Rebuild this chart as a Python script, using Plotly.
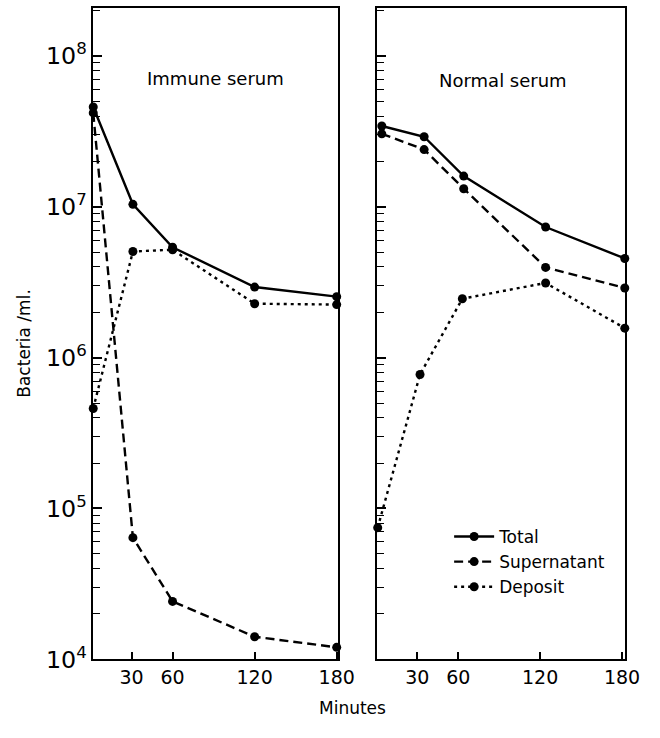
import plotly.graph_objects as go

# ---------------- data ----------------
left_times = [2, 31, 60, 120, 180]
immune_total = [4.6e7, 1.04e7, 5.4e6, 2.94e6, 2.54e6]
immune_supernatant = [4.2e7, 6.4e4, 2.42e4, 1.41e4, 1.20e4]
immune_deposit = [4.6e5, 5.06e6, 5.2e6, 2.28e6, 2.25e6]

right_times = [4, 35, 64, 124, 182]
right_times_deposit = [1, 32, 63, 124, 182]
normal_total = [3.44e7, 2.92e7, 1.60e7, 7.35e6, 4.55e6]
normal_supernatant = [3.05e7, 2.40e7, 1.32e7, 3.97e6, 2.90e6]
normal_deposit = [7.46e4, 7.74e5, 2.46e6, 3.13e6, 1.57e6]

x_ticks = [30, 60, 120, 180]
series_names = ["Total", "Supernatant", "Deposit"]
panel_titles = ["Immune serum", "Normal serum"]

FONT = "DejaVu Sans"
dashes = {"Total": "solid", "Supernatant": "9px,5px", "Deposit": "3px,4px"}

fig = go.Figure()

left_sets = [immune_total, immune_supernatant, immune_deposit]
right_sets = [normal_total, normal_supernatant, normal_deposit]
right_x = [right_times, right_times, right_times_deposit]

for name, ys in zip(series_names, left_sets):
    fig.add_trace(go.Scatter(
        x=left_times, y=ys, mode="lines+markers", name=name,
        line=dict(color="black", width=2.4, dash=dashes[name]),
        marker=dict(color="black", size=9),
        cliponaxis=False, showlegend=False, xaxis="x", yaxis="y"))

for name, xs, ys in zip(series_names, right_x, right_sets):
    fig.add_trace(go.Scatter(
        x=xs, y=ys, mode="lines+markers", name=name,
        line=dict(color="black", width=2.4, dash=dashes[name]),
        marker=dict(color="black", size=9),
        cliponaxis=False, showlegend=True, xaxis="x2", yaxis="y2"))

W, H = 660, 738
y_dom = [1 - 672 / H, 1 - 8 / H]

common_x = dict(
    tickmode="array", tickvals=x_ticks, ticktext=[str(t) for t in x_ticks],
    ticks="inside", ticklen=7, tickwidth=1.6, tickcolor="black",
    showline=True, linecolor="black", linewidth=2, mirror=True,
    showgrid=False, zeroline=False,
    tickfont=dict(family=FONT, size=19, color="black"),
)
common_y = dict(
    type="log", range=[4, 8.32], dtick=1, tick0=0,
    exponentformat="power", showexponent="all",
    ticks="inside", ticklen=9, tickwidth=1.6, tickcolor="black",
    minor=dict(ticks="inside", ticklen=7, tickwidth=1.4, tickcolor="black",
               dtick="D1", showgrid=False),
    showline=True, linecolor="black", linewidth=2, mirror=True,
    showgrid=False, zeroline=False, domain=y_dom,
    tickfont=dict(family=FONT, size=19, color="black"),
)

def note(text, x, y, size, angle=0):
    return dict(text=text, x=x / W, y=1 - y / H, xref="paper", yref="paper",
                xanchor="center", yanchor="middle", textangle=angle,
                showarrow=False, font=dict(family=FONT, size=size, color="black"))

fig.update_layout(
    width=W, height=H,
    margin=dict(l=0, r=0, t=0, b=0),
    paper_bgcolor="white", plot_bgcolor="white",
    xaxis=dict(domain=[95 / W, 347 / W], range=[1.5, 181], anchor="y", **common_x),
    xaxis2=dict(domain=[387 / W, 642 / W], range=[0.5, 182.5], anchor="y2", **common_x),
    yaxis=dict(anchor="x", showticklabels=True, **common_y),
    yaxis2=dict(anchor="x2", showticklabels=False, **common_y),
    legend=dict(x=461 / W, y=1 - 529 / H, xanchor="left", yanchor="top",
                bgcolor="rgba(0,0,0,0)", font=dict(family=FONT, size=17, color="black"),
                itemwidth=40, tracegroupgap=0),
    annotations=[
        note(panel_titles[0], 221, 80, 18),
        note(panel_titles[1], 516, 82, 18),
        note("Bacteria /ml.", 25, 350, 17, -90),
        note("Minutes", 362, 722, 17),
    ],
)

fig.write_html("out.html")
